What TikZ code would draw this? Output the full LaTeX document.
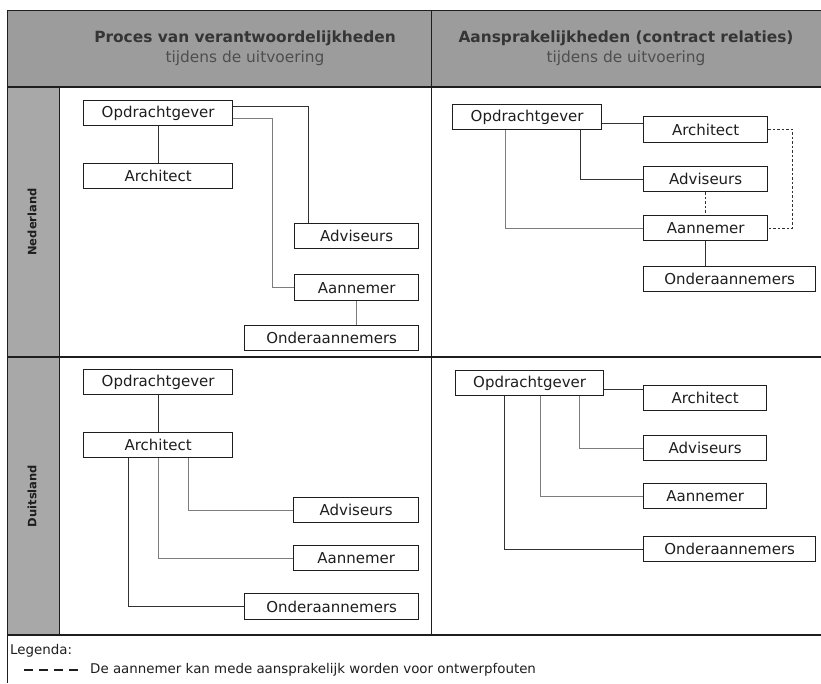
\documentclass[tikz,border=0pt]{standalone}
\usepackage{fontspec}
\setmainfont{DejaVu Sans}
\usetikzlibrary{calc}

\definecolor{hdrgray}{RGB}{156,156,156}
\definecolor{sidegray}{RGB}{168,168,168}
\definecolor{ink}{RGB}{30,30,30}
\definecolor{linkdark}{RGB}{50,50,50}
\definecolor{linkpale}{RGB}{125,125,125}
\definecolor{subtxt}{RGB}{78,78,78}

\begin{document}
\begin{tikzpicture}[x=1pt,y=-1pt,
  role/.style={draw=ink, line width=1.3pt, fill=white, inner sep=0pt,
               anchor=north west, text=ink, font=\fontsize{15}{18}\selectfont},
  link/.style={draw=linkdark, line width=1pt},
  palelink/.style={draw=linkpale, line width=1pt},
  liable/.style={draw=linkdark, line width=1pt, dash pattern=on 2.5pt off 2pt},
  gridline/.style={draw=ink, line width=1.8pt},
  thinrule/.style={draw=ink, line width=1pt},
  title/.style={font=\bfseries\fontsize{15.4}{18}\selectfont, text=ink!90},
  subtitle/.style={font=\fontsize{15.4}{18}\selectfont, text=subtxt},
  rowlabel/.style={rotate=90, font=\bfseries\fontsize{11.5}{14}\selectfont, text=ink},
  legendtext/.style={anchor=west, inner sep=0pt, text=ink, font=\fontsize{13.4}{16}\selectfont},
  legenddash/.style={draw=ink, line width=1.6pt, dash pattern=on 9pt off 6pt}
]
\useasboundingbox (0,0) rectangle (821,683);

% ---------- table background and rules ----------
\fill[hdrgray] (7,10) rectangle (821,87);
\fill[sidegray] (7,87) rectangle (59,635);
\draw[thinrule] (7,10) -- (821,10);
\draw[thinrule] (7,10) -- (7,683);
\draw[gridline] (7,87) -- (821,87);
\draw[gridline] (7,357) -- (821,357);
\draw[gridline] (7,635) -- (821,635);
\draw[thinrule] (431,10) -- (431,635);
\draw[thinrule] (59,87) -- (59,635);

% ---------- column headings ----------
\node[title] (hdrL) at (245,38) {Proces van verantwoordelijkheden};
\node[subtitle] (hdrLsub) at (245,58) {tijdens de uitvoering};
\node[title] (hdrR) at (626,38) {Aansprakelijkheden (contract relaties)};
\node[subtitle] (hdrRsub) at (626,58) {tijdens de uitvoering};

% ---------- row headings ----------
\node[rowlabel] (rowNL) at (32,222) {Nederland};
\node[rowlabel] (rowDE) at (32,496) {Duitsland};

% ---------- Nederland: responsibilities ----------
\node[role, minimum width=149, minimum height=25] (tlOpd) at (83,100) {Opdrachtgever};
\node[role, minimum width=149, minimum height=25] (tlArc) at (83,163) {Architect};
\node[role, minimum width=124, minimum height=25] (tlAdv) at (294,223) {Adviseurs};
\node[role, minimum width=124, minimum height=26] (tlAan) at (294,274) {Aannemer};
\node[role, minimum width=174, minimum height=25] (tlOnd) at (244,325) {Onderaannemers};

\draw[link] (tlOpd.south) -- (tlArc.north);
\draw[link] ([yshift=-6pt]tlOpd.north east) -| ([xshift=14pt]tlAdv.north west);
\draw[palelink] ([yshift=-18pt]tlOpd.north east) -- ++(39,0) |- (tlAan.west);
\draw[palelink] (tlAan.south) -- (tlAan.south |- tlOnd.north);

% ---------- Nederland: liability ----------
\node[role, minimum width=149, minimum height=25] (trOpd) at (452,104) {Opdrachtgever};
\node[role, minimum width=124, minimum height=26] (trArc) at (643,116) {Architect};
\node[role, minimum width=124, minimum height=25] (trAdv) at (643,166) {Adviseurs};
\node[role, minimum width=124, minimum height=25] (trAan) at (643,215) {Aannemer};
\node[role, minimum width=172, minimum height=25] (trOnd) at (643,266) {Onderaannemers};

\coordinate (trTap) at ([yshift=7pt]trOpd.south east);
\draw[link] (trTap) -- (trTap -| trArc.west);
\draw[link] ([xshift=-22pt]trOpd.south east) |- (trAdv.west);
\draw[palelink] ([xshift=53pt]trOpd.south west) |- (trAan.west);
\draw[link] (trAan.south) -- (trAan.south |- trOnd.north);
\draw[liable] (trAdv.south) -- (trAan.north);
\draw[liable] ([yshift=-13pt]trArc.north east) -- ++(24,0) |- (trAan.east);

% ---------- Duitsland: responsibilities ----------
\node[role, minimum width=149, minimum height=25] (blOpd) at (83,369) {Opdrachtgever};
\node[role, minimum width=149, minimum height=25] (blArc) at (83,432) {Architect};
\node[role, minimum width=125, minimum height=25] (blAdv) at (293,497) {Adviseurs};
\node[role, minimum width=125, minimum height=25] (blAan) at (293,545) {Aannemer};
\node[role, minimum width=174, minimum height=26] (blOnd) at (244,593) {Onderaannemers};

\draw[link] (blOpd.south) -- (blArc.north);
\draw[palelink] ([xshift=30pt]blArc.south) |- (blAdv.west);
\draw[palelink] (blArc.south) |- (blAan.west);
\draw[link] ([xshift=-30pt]blArc.south) |- (blOnd.west);

% ---------- Duitsland: liability ----------
\node[role, minimum width=148, minimum height=25] (brOpd) at (455,370) {Opdrachtgever};
\node[role, minimum width=123, minimum height=25] (brArc) at (643,385) {Architect};
\node[role, minimum width=123, minimum height=25] (brAdv) at (643,435) {Adviseurs};
\node[role, minimum width=123, minimum height=25] (brAan) at (643,483) {Aannemer};
\node[role, minimum width=172, minimum height=25] (brOnd) at (643,536) {Onderaannemers};

\coordinate (brTap) at ([yshift=-19pt]brOpd.north east);
\draw[link] (brTap) -- (brTap -| brArc.west);
\draw[palelink] ([xshift=-25pt]brOpd.south east) |- (brAdv.west);
\draw[palelink] ([xshift=-64pt]brOpd.south east) |- (brAan.west);
\draw[link] ([xshift=49pt]brOpd.south west) |- (brOnd.west);

% ---------- legend ----------
\node[legendtext] (legTitle) at (10,651) {Legenda:};
\coordinate (legDashA) at (24,670);
\coordinate (legDashB) at (80,670);
\draw[legenddash] (legDashA) -- (legDashB);
\node[legendtext] (legText) at (90,670) {De aannemer kan mede aansprakelijk worden voor ontwerpfouten};
\end{tikzpicture}
\end{document}
